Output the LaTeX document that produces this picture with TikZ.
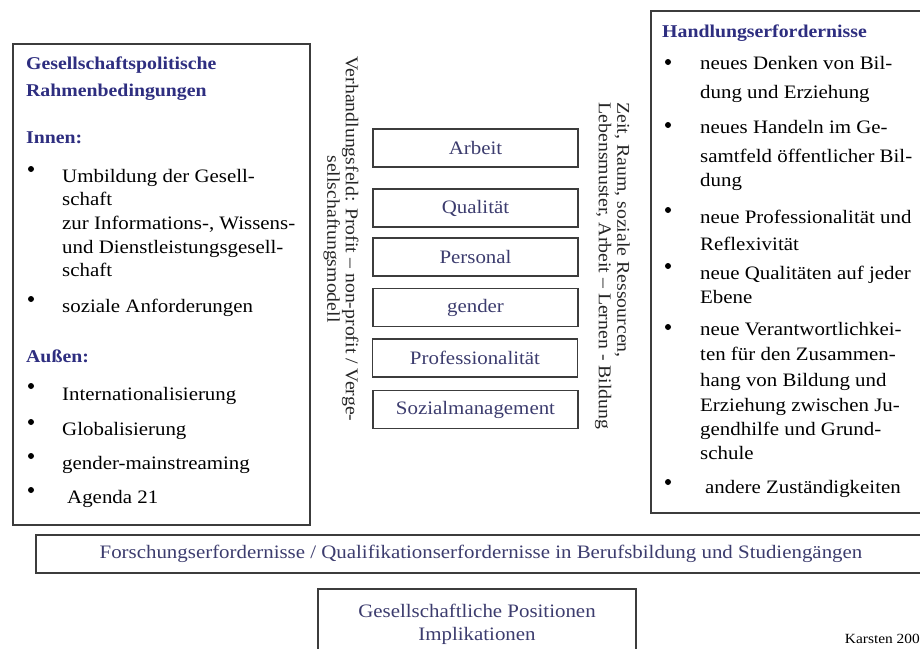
\documentclass[tikz,border=0pt]{standalone}
\usepackage{fontspec}
\setmainfont[FakeStretch=1.1]{Liberation Serif}
\definecolor{headblue}{RGB}{46,46,128}
\definecolor{midblue}{RGB}{60,60,110}
\definecolor{boxgray}{RGB}{60,60,60}
\tikzset{
  bigbox/.style={draw=boxgray, line width=1.6pt},
  head/.style={anchor=base west, inner sep=0pt, text=headblue, font=\fontsize{18}{22}\selectfont\bfseries},
  body/.style={anchor=base west, inner sep=0pt, text=black, font=\fontsize{19}{23}\selectfont},
  bul/.style={circle, fill=black, inner sep=0pt, minimum size=6pt},
  midbox/.style={draw=boxgray, line width=1.5pt, minimum width=205pt, minimum height=38pt, inner sep=0pt, text=midblue, font=\fontsize{19}{23}\selectfont},
  vtext/.style={rotate=-90, inner sep=0pt, text=black!85, font=\fontsize{18}{18.5}\selectfont},
  wide/.style={draw=boxgray, line width=1.5pt, inner sep=0pt, text=midblue, font=\fontsize{19}{23}\selectfont}
}
\begin{document}
\begin{tikzpicture}[x=1pt, y=-1pt]
\useasboundingbox (0,0) rectangle (920,648);
\clip (0,0) rectangle (920,648);
\fill[white] (0,0) rectangle (920,648);

% left box
\draw[bigbox] (13,44) rectangle (310,525);
\node[head] (lh1) at (26,69) {Gesellschaftspolitische};
\node[head] (lh2) at (26,96) {Rahmenbedingungen};
\node[head] (lin) at (26,143) {Innen:};
\node[bul] (lb1) at (31,169) {};
\node[body] (l1a) at (62,182) {Umbildung der Gesell-};
\node[body] (l1b) at (62,205) {schaft};
\node[body] (l1c) at (62,229) {zur Informations-, Wissens-};
\node[body] (l1d) at (62,253) {und Dienstleistungsgesell-};
\node[body] (l1e) at (62,276) {schaft};
\node[bul] (lb2) at (31,299) {};
\node[body] (l2) at (62,312) {soziale Anforderungen};
\node[head] (lau) at (26,362) {Außen:};
\node[bul] (lb3) at (31,386) {};
\node[body] (l3) at (62,400) {Internationalisierung};
\node[bul] (lb4) at (31,422) {};
\node[body] (l4) at (62,435) {Globalisierung};
\node[bul] (lb5) at (31,456) {};
\node[body] (l5) at (62,469) {gender-mainstreaming};
\node[bul] (lb6) at (31,490) {};
\node[body] (l6) at (67,503) {Agenda 21};

% middle boxes
\node[midbox] (arbeit) at (475.5,148) {Arbeit};
\node[midbox] (qual) at (475.5,208) {Qualität};
\node[midbox] (pers) at (475.5,257) {Personal};
\node[midbox] (gender) at (475.5,307.5) {gender};
\node[midbox] (prof) at (475,358) {Professionalität};
\node[midbox] (sozm) at (475.5,409.5) {Sozialmanagement};

% vertical texts
\node[vtext, align=center] (vl) at (341,239) {Verhandlungsfeld: Profit – non-profit / Verge-\\sellschaftungsmodell};
\node[vtext, align=left] (vr) at (612.5,266) {Zeit, Raum, soziale Ressourcen,\\Lebensmuster, Arbeit – Lernen - Bildung};

% right box
\draw[bigbox] (651,11) rectangle (935,513);
\node[head] (rh) at (662,37) {Handlungserfordernisse};
\node[bul] (rb1) at (668,62) {};
\node[body] (r1a) at (700,69) {neues Denken von Bil-};
\node[body] (r1b) at (700,98) {dung und Erziehung};
\node[bul] (rb2) at (668,125) {};
\node[body] (r2a) at (700,133) {neues Handeln im Ge-};
\node[body] (r2b) at (700,162) {samtfeld öffentlicher Bil-};
\node[body] (r2c) at (700,186) {dung};
\node[bul] (rb3) at (668,210) {};
\node[body] (r3a) at (700,223) {neue Professionalität und};
\node[body] (r3b) at (700,250) {Reflexivität};
\node[bul] (rb4) at (668,266) {};
\node[body] (r4a) at (700,279) {neue Qualitäten auf jeder};
\node[body] (r4b) at (700,303) {Ebene};
\node[bul] (rb5) at (668,327) {};
\node[body] (r5a) at (700,335) {neue Verantwortlichkei-};
\node[body] (r5b) at (700,360) {ten für den Zusammen-};
\node[body] (r5c) at (700,386) {hang von Bildung und};
\node[body] (r5d) at (700,411) {Erziehung zwischen Ju-};
\node[body] (r5e) at (700,435) {gendhilfe und Grund-};
\node[body] (r5f) at (700,459) {schule};
\node[bul] (rb6) at (668,482) {};
\node[body] (r6) at (705,493) {andere Zuständigkeiten};

% bottom
\draw[bigbox] (36,535) rectangle (930,573);
\node[inner sep=0pt, text=midblue, font=\fontsize{19}{23}\selectfont] (forsch) at (481,554) {Forschungserfordernisse / Qualifikationserfordernisse in Berufsbildung und Studiengängen};
\draw[bigbox] (318,589) rectangle (636,680);
\node[inner sep=0pt, text=midblue, font=\fontsize{19}{23}\selectfont, anchor=base] (ges1) at (477,617) {Gesellschaftliche Positionen};
\node[inner sep=0pt, text=midblue, font=\fontsize{19}{23}\selectfont, anchor=base] (ges2) at (477,640) {Implikationen};
\node[inner sep=0pt, anchor=base east, font=\fontsize{14}{16}\selectfont] (karsten) at (920,643) {Karsten 200};
\end{tikzpicture}
\end{document}
